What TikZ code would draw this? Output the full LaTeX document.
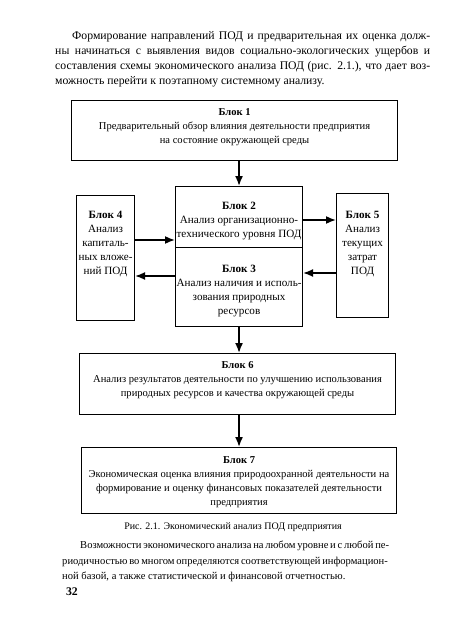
\documentclass[tikz,border=0pt]{standalone}
\usepackage{fontspec}
\setmainfont{Liberation Serif}
\usetikzlibrary{positioning}
\usetikzlibrary{arrows.meta}

\newcommand{\pxu}{0.03cm}
\newcommand{\sline}[2]{\makebox[#1][s]{#2}}

\tikzset{
  blk/.style={draw,line width=0.9pt,inner sep=0pt,anchor=north west},
  btxt/.style={inner sep=0pt,align=center,font=\fontsize{9.5}{12}\selectfont},
  wtxt/.style={btxt,font=\fontsize{9}{12}\selectfont},
  para/.style={inner sep=0pt,align=left,anchor=north west,font=\fontsize{10}{13}\selectfont},
  arr/.style={-{Latex[length=3mm,width=2.4mm]},line width=1.4pt},
}

\begin{document}
\begin{tikzpicture}[x=\pxu,y=-\pxu]
\useasboundingbox (0,0) rectangle (450,638);

% text above the scheme
\node[para] (p1) at (55,31) {%
\hspace*{0.51cm}\sline{10.74cm}{Формирование направлений ПОД и предварительная их оценка долж-}\\
\sline{11.25cm}{ны начинаться с выявления видов социально-экологических ущербов и}\\
\sline{11.25cm}{составления схемы экономического анализа ПОД (рис. 2.1.), что дает воз-}\\
можность перейти к поэтапному системному анализу.};

% blocks
\node[blk,minimum width=9.78cm,minimum height=1.8cm] (b1) at (71,100) {};
\node[blk,minimum width=3.81cm,minimum height=1.83cm] (b2) at (175,186) {};
\node[blk,minimum width=3.81cm,minimum height=2.37cm] (b3) at (175,247) {};
\node[blk,minimum width=1.74cm,minimum height=3.75cm] (b4) at (76,195) {};
\node[blk,minimum width=1.56cm,minimum height=3.72cm] (b5) at (336,193) {};
\node[blk,minimum width=9.48cm,minimum height=1.83cm] (b6) at (79,353) {};
\node[blk,minimum width=9.45cm,minimum height=1.98cm] (b7) at (81,447) {};

\node[wtxt,below=0.24cm of b1.north] (t1) {\textbf{Блок 1}\\Предварительный обзор влияния деятельности предприятия\\на состояние окружающей среды};
\node[btxt,below=0.48cm of b2.north] (t2) {\textbf{Блок 2}\\Анализ организационно-\\технического уровня ПОД};
\node[btxt,below=0.54cm of b3.north] (t3) {\textbf{Блок 3}\\Анализ наличия и исполь-\\зования природных\\ресурсов};
\node[btxt,below=0.48cm of b4.north] (t4) {\textbf{Блок 4}\\Анализ\\капиталь-\\ных вложе-\\ний ПОД};
\node[btxt,below=0.54cm of b5.north] (t5) {\textbf{Блок 5}\\Анализ\\текущих\\затрат\\ПОД};
\node[wtxt,below=0.24cm of b6.north] (t6) {\textbf{Блок 6}\\Анализ результатов деятельности по улучшению использования\\природных ресурсов и качества окружающей среды};
\node[wtxt,below=0.27cm of b7.north] (t7) {\textbf{Блок 7}\\Экономическая оценка влияния природоохранной деятельности на\\формирование и оценку финансовых показателей деятельности\\предприятия};

% arrows
\coordinate (y25) at (0,220);
\coordinate (y42) at (0,240);
\coordinate (y53) at (0,273);
\coordinate (y34) at (0,276);
\draw[arr] (b2.north |- b1.south) -- (b2.north);
\draw[arr] (b4.east |- y42) -- (b2.west |- y42);
\draw[arr] (b2.east |- y25) -- (b5.west |- y25);
\draw[arr] (b5.west |- y53) -- (b3.east |- y53);
\draw[arr] (b3.west |- y34) -- (b4.east |- y34);
\draw[arr] (b3.south) -- (b6.north -| b3.south);
\draw[arr] (b6.south -| b3.south) -- (b7.north -| b3.south);

\node[font=\fontsize{8.5}{10}\selectfont] (cap) at (233,527) {Рис. 2.1. Экономический анализ ПОД предприятия};

% text below the scheme
\node[para,font=\fontsize{9}{13}\selectfont] (p2) at (62,541) {%
\hspace*{0.54cm}\sline{9.09cm}{Возможности экономического анализа на любом уровне и с любой пе-}\\
\sline{9.63cm}{риодичностью во многом определяются соответствующей информацион-}\\
ной базой, а также статистической и финансовой отчетностью.};

\node[anchor=west,font=\bfseries\fontsize{10}{12}\selectfont] (pg) at (62,592) {32};
\end{tikzpicture}
\end{document}
